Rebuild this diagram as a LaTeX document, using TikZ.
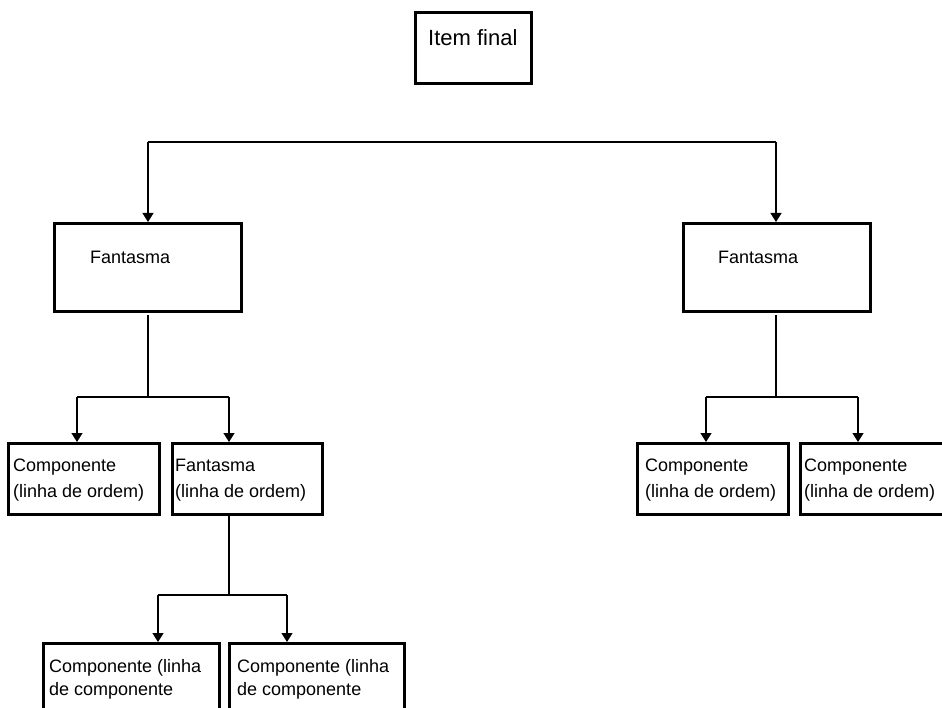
\documentclass[tikz,border=0pt]{standalone}
\usepackage{fontspec}
\setmainfont{Liberation Sans}
\usetikzlibrary{arrows.meta,calc,positioning}

\begin{document}
\begin{tikzpicture}[x=1pt,y=-1pt]
\tikzstyle{box}=[draw=black, line width=3pt, anchor=north west, inner sep=0pt]
\tikzstyle{lbl}=[anchor=west, inner sep=0pt, align=left, font=\fontsize{18}{26}\selectfont]
\tikzstyle{con}=[line width=1.3pt]
\tikzstyle{arr}=[con, -{Triangle[length=9pt,width=11pt]}]
\clip (0,0) rectangle (942,708);
\fill[white] (0,0) rectangle (942,708);
% boxes
\node[box, minimum width=116pt, minimum height=71pt] (top) at (414,11) {};
\node[box, minimum width=187pt, minimum height=88pt] (fl) at (53,222) {};
\node[box, minimum width=187pt, minimum height=88pt] (fr) at (682,222) {};
\node[box, minimum width=151pt, minimum height=71pt] (cl1) at (7,442) {};
\node[box, minimum width=150pt, minimum height=71pt] (fl2) at (171,442) {};
\node[box, minimum width=151pt, minimum height=71pt] (cr1) at (636,442) {};
\node[box, minimum width=160pt, minimum height=71pt] (cr2) at (799,442) {};
\node[box, minimum width=176pt, minimum height=90pt] (cb1) at (42,642) {};
\node[box, minimum width=175pt, minimum height=90pt] (cb2) at (228,642) {};
% texts
\node[lbl, font=\fontsize{22}{26}\selectfont] (ttop) at (428,38) {Item final};
\node[lbl] (tfl) at (90,257) {Fantasma};
\node[lbl] (tfr) at (718,257) {Fantasma};
\node[lbl] (tcl1) at (13,480) {Componente\\(linha de ordem)};
\node[lbl] (tfl2) at (175,480) {Fantasma\\(linha de ordem)};
\node[lbl] (tcr1) at (645,480) {Componente\\(linha de ordem)};
\node[lbl] (tcr2) at (804,480) {Componente\\(linha de ordem)};
\node[lbl, font=\fontsize{18}{23}\selectfont] (tcb1) at (49,679) {Componente (linha\\de componente};
\node[lbl, font=\fontsize{18}{23}\selectfont] (tcb2) at (237,679) {Componente (linha\\de componente};
% connectors
\coordinate (tl) at (148,142);
\coordinate (tr) at (776,142);
\draw[con] (tl) -- (tr);
\draw[arr] (tl) -- (tl |- fl.north);
\draw[arr] (tr) -- (tr |- fr.north);
% left branch
\coordinate (jl) at (148,397);
\coordinate (jl1) at (77,397);
\coordinate (jl2) at (229,397);
\draw[con] (148,315) -- (jl);
\draw[con] (jl1) -- (jl2);
\draw[arr] (jl1) -- (jl1 |- cl1.north);
\draw[arr] (jl2) -- (jl2 |- fl2.north);
% lower branch
\coordinate (jb) at (229,595);
\coordinate (jb1) at (158,595);
\coordinate (jb2) at (287,595);
\draw[con] (jb |- fl2.south) -- (jb);
\draw[con] (jb1) -- (jb2);
\draw[arr] (jb1) -- (jb1 |- cb1.north);
\draw[arr] (jb2) -- (jb2 |- cb2.north);
% right branch
\coordinate (jr) at (776,397);
\coordinate (jr1) at (706,397);
\coordinate (jr2) at (858,397);
\draw[con] (776,315) -- (jr);
\draw[con] (jr1) -- (jr2);
\draw[arr] (jr1) -- (jr1 |- cr1.north);
\draw[arr] (jr2) -- (jr2 |- cr2.north);
\end{tikzpicture}
\end{document}
